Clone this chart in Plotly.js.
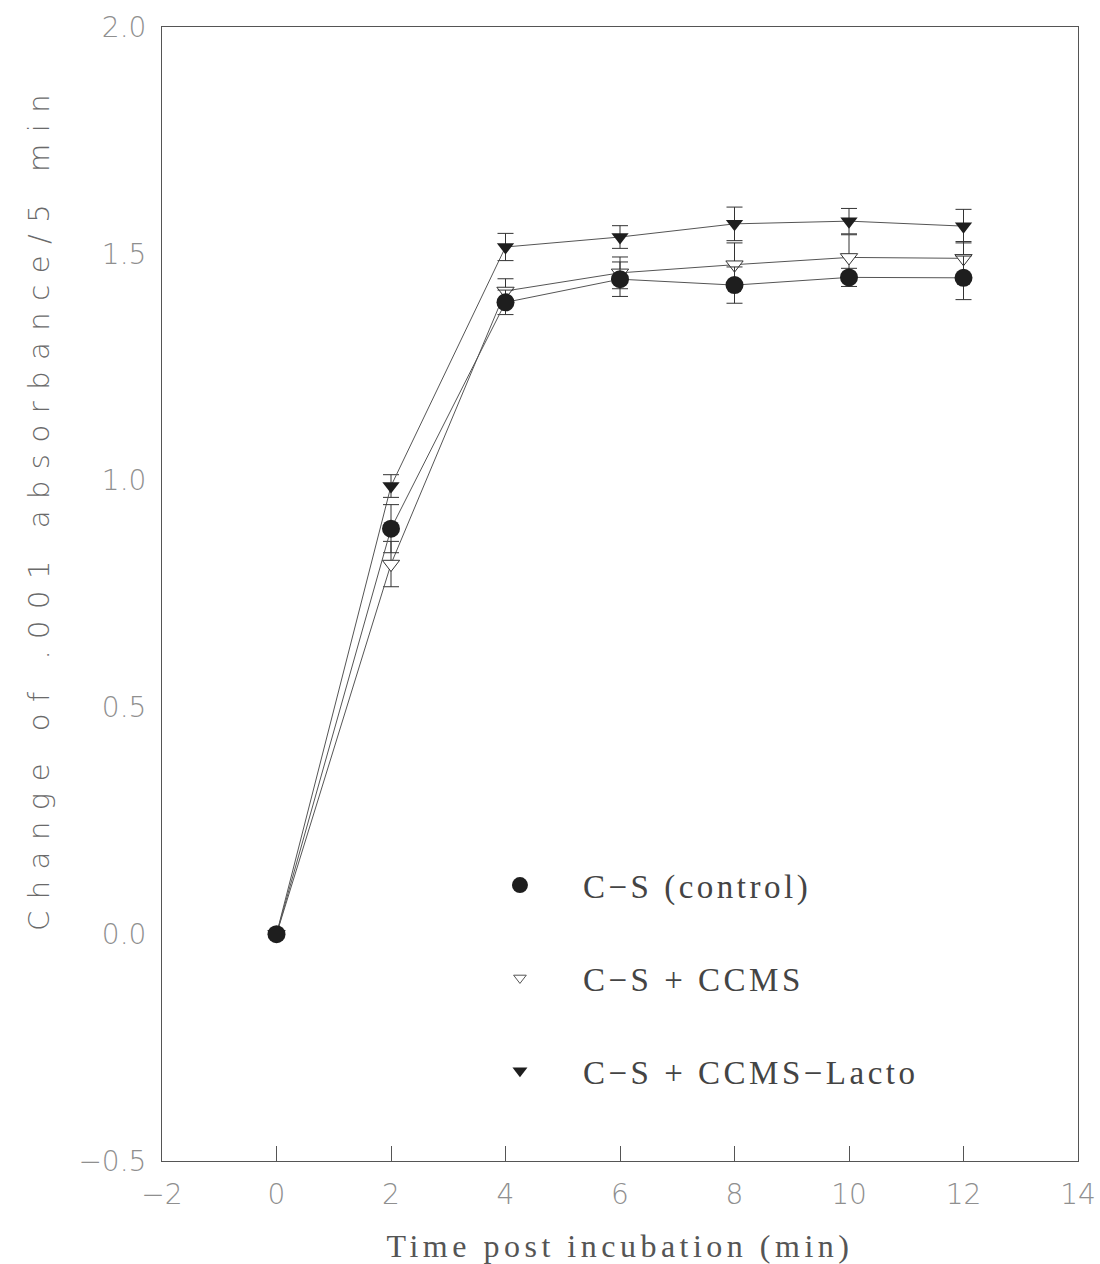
<!DOCTYPE html>
<html>
<head>
<meta charset="utf-8">
<script src="https://cdn.plot.ly/plotly-3.0.1.min.js"></script>
<style>
  html, body { margin: 0; padding: 0; background: #fff; }
  #chart { width: 1100px; height: 1264px; }
  .annotation-text { letter-spacing: 11.5px; }
  .xtitle { letter-spacing: 4.5px; }
  .legendtext { letter-spacing: 3.5px; }
</style>
</head>
<body>
<div id="chart"></div>
<script>
// Time points (min)
const timeMin = [0, 2, 4, 6, 8, 10, 12];

// C-S (control)
const controlVals = [0, 0.894, 1.393, 1.444, 1.431, 1.448, 1.447];
const controlErr  = [0, 0.053, 0.027, 0.038, 0.040, 0.020, 0.048];

// C-S + CCMS
const ccmsVals = [0, 0.816, 1.418, 1.458, 1.476, 1.492, 1.490];
const ccmsErr  = [0, 0.050, 0.027, 0.035, 0.048, 0.050, 0.037];

// C-S + CCMS-Lacto
const lactoVals = [0, 0.988, 1.515, 1.537, 1.566, 1.572, 1.561];
const lactoErr  = [0, 0.025, 0.030, 0.025, 0.037, 0.028, 0.037];

const seriesNames = ['C\u2212S (control)', 'C\u2212S + CCMS', 'C\u2212S + CCMS\u2212Lacto'];

const xTickVals = [-2, 0, 2, 4, 6, 8, 10, 12, 14];
const yTickVals = [-0.5, 0.0, 0.5, 1.0, 1.5, 2.0];
const yTickText = ['\u22120.5', '0.0', '0.5', '1.0', '1.5', '2.0'];

const ink = '#333333';
const lineInk = '#555555';

function errBar(arr) {
  return { type: 'data', array: arr, visible: true, color: ink, thickness: 1, width: 8 };
}

const traces = [
  {
    x: timeMin, y: lactoVals, mode: 'lines+markers', showlegend: false,
    line: { color: lineInk, width: 1 },
    marker: { symbol: 'triangle-down', size: 15, color: '#1e1e1e' },
    error_y: errBar(lactoErr)
  },
  {
    x: timeMin, y: ccmsVals, mode: 'lines+markers', showlegend: false,
    line: { color: lineInk, width: 1 },
    marker: { symbol: 'triangle-down', size: 15, color: '#ffffff', line: { color: '#333', width: 1 } },
    error_y: errBar(ccmsErr)
  },
  {
    x: timeMin, y: controlVals, mode: 'lines+markers', showlegend: false,
    line: { color: lineInk, width: 1 },
    marker: { symbol: 'circle', size: 18, color: '#1e1e1e' },
    error_y: errBar(controlErr)
  },
  // legend-only entries
  {
    x: [null], y: [null], mode: 'markers', name: seriesNames[0], legendgroup: 'a',
    marker: { symbol: 'circle', size: 16, color: '#1e1e1e' }
  },
  {
    x: [null], y: [null], mode: 'markers', name: seriesNames[1], legendgroup: 'b',
    marker: { symbol: 'triangle-down', size: 11, color: '#ffffff', line: { color: '#555', width: 1 } }
  },
  {
    x: [null], y: [null], mode: 'markers', name: seriesNames[2], legendgroup: 'c',
    marker: { symbol: 'triangle-down', size: 13, color: '#1e1e1e' }
  }
];

const tickFont = { family: 'DejaVu Sans', size: 28, color: '#8f8f8f', weight: 200 };

const layout = {
  width: 1100, height: 1264,
  margin: { l: 162, r: 22, t: 27, b: 103 },
  paper_bgcolor: '#ffffff', plot_bgcolor: '#ffffff',
  showlegend: true,
  legend: {
    x: 0.322, y: 0.268, xanchor: 'left', yanchor: 'top',
    bgcolor: 'rgba(0,0,0,0)', borderwidth: 0,
    font: { family: 'Liberation Serif', size: 33, color: '#444444' },
    itemwidth: 116, tracegroupgap: 47, traceorder: 'grouped'
  },
  xaxis: {
    range: [-2, 14], tickvals: xTickVals, ticks: 'inside', ticklen: 15, tickcolor: '#555',
    showline: true, linecolor: '#555', linewidth: 1, mirror: true,
    showgrid: false, zeroline: false, tickfont: tickFont, ticklabelstandoff: 8,
    title: { text: 'Time post incubation (min)', font: { family: 'Liberation Serif', size: 32, color: '#555' }, standoff: 29 }
  },
  yaxis: {
    range: [-0.5, 2.0], tickvals: yTickVals, ticktext: yTickText, ticks: '',
    showline: true, linecolor: '#555', linewidth: 1, mirror: true,
    showgrid: false, zeroline: false, tickfont: tickFont, ticklabelstandoff: 9
  },
  annotations: [{
    xref: 'paper', yref: 'paper', x: -0.135, y: 0.577, xanchor: 'center', yanchor: 'middle',
    text: 'Change of .001 absorbance/5 min', textangle: -90, showarrow: false,
    font: { family: 'DejaVu Sans', size: 29, color: '#6a6a6a', weight: 200 }
  }]
};

Plotly.newPlot('chart', traces, layout, { staticPlot: true, displayModeBar: false });
</script>
</body>
</html>
